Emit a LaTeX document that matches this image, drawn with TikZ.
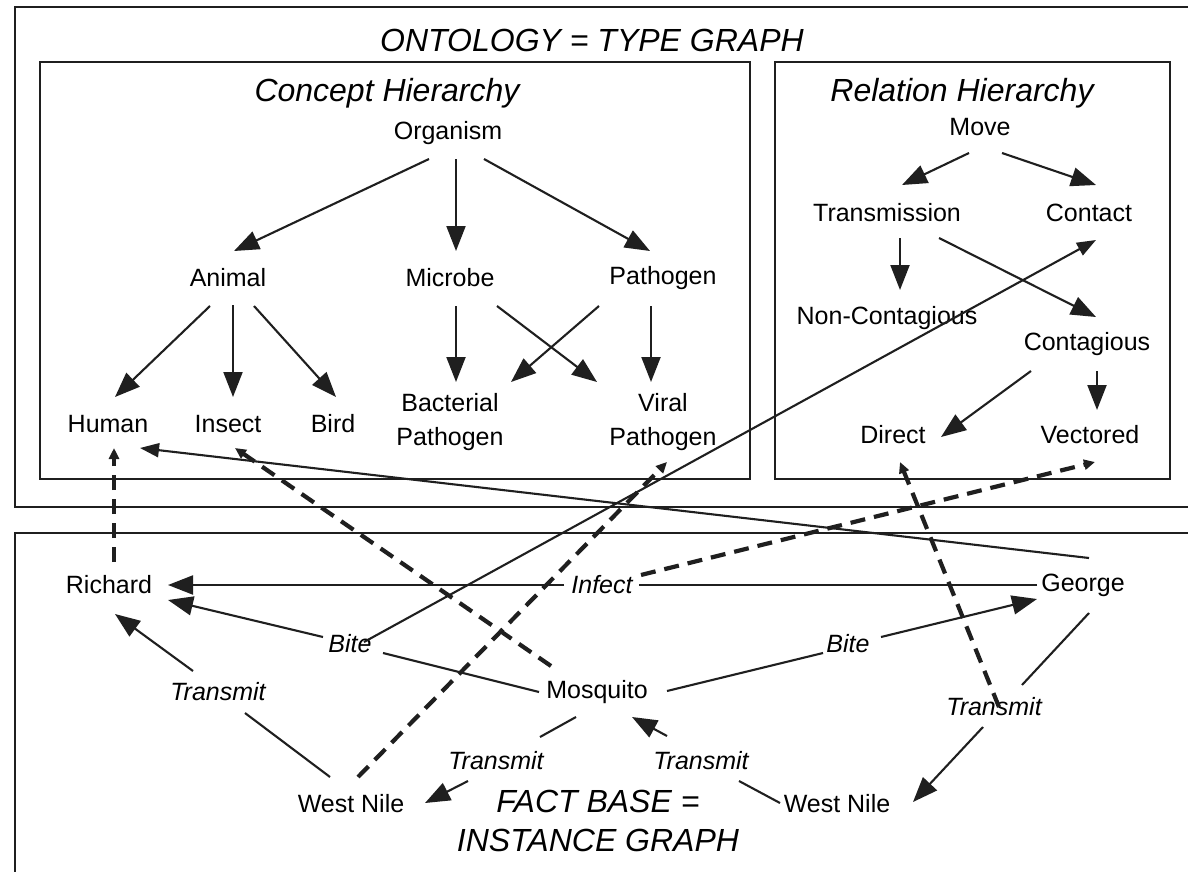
\documentclass[tikz,border=0pt]{standalone}
\usepackage{fontspec}
\setmainfont{Liberation Sans}
\usetikzlibrary{arrows.meta}
\begin{document}
\begin{tikzpicture}[x=1pt,y=-1pt,
  lbl/.style={font=\fontsize{25}{34}\selectfont, inner sep=0pt, align=center},
  rel/.style={font=\fontsize{25}{34}\selectfont\itshape, inner sep=0pt},
  ttl/.style={font=\fontsize{32}{40}\selectfont\itshape, inner sep=0pt, align=center},
  frame/.style={line width=2.6pt, draw=black!88},
  arr/.style={line width=2.1pt, draw=black!88, -{Triangle[length=25pt,width=19pt]}},
  ln/.style={line width=2.1pt, draw=black!88},
  darr/.style={line width=4.2pt, draw=black!88, dash pattern=on 15pt off 9pt, -{Triangle[length=11pt,width=10pt]}}
]
\useasboundingbox (0,0) rectangle (1188,872);
\clip (0,0) rectangle (1188,872);
\fill[white] (0,0) rectangle (1188,872);
% frames
\draw[frame] (1240,7) -- (15,7) -- (15,507) -- (1240,507);
\draw[frame] (1240,533) -- (15,533) -- (15,900);
\draw[frame] (40,62) rectangle (750,479);
\draw[frame] (775,62) rectangle (1170,479);
% titles
\node[ttl] (ont) at (592,40) {ONTOLOGY = TYPE GRAPH};
\node[ttl] (ch) at (387,93) {Concept Hierarchy};
\node[ttl] (rh) at (962,93) {Relation Hierarchy};
\node[ttl, font=\fontsize{32}{39}\selectfont\itshape] (fact) at (598,821) {FACT BASE =\\INSTANCE GRAPH};
% concept nodes
\node[lbl] (org) at (448,133) {Organism};
\node[lbl] (ani) at (228,278) {Animal};
\node[lbl] (mic) at (450,278) {Microbe};
\node[lbl] (pat) at (663,278) {Pathogen};
\node[lbl] (hum) at (108,424) {Human};
\node[lbl] (ins) at (228,424) {Insect};
\node[lbl] (bir) at (333,424) {Bird};
\node[lbl] (bac) at (450,422) {Bacterial\\Pathogen};
\node[lbl] (vir) at (663,422) {Viral\\Pathogen};
% relation nodes
\node[lbl] (move) at (980,127) {Move};
\node[lbl] (trans) at (887,213) {Transmission};
\node[lbl] (cont) at (1089,213) {Contact};
\node[lbl] (nonc) at (887,318) {Non-Contagious};
\node[lbl] (contag) at (1087,344) {Contagious};
\node[lbl] (dir) at (893,435) {Direct};
\node[lbl] (vec) at (1090,435) {Vectored};
% instance nodes
\node[lbl] (rich) at (109,585) {Richard};
\node[rel] (infect) at (602,585) {Infect};
\node[lbl] (george) at (1083,585) {George};
\node[rel] (biteL) at (350,644) {Bite};
\node[rel] (biteR) at (848,644) {Bite};
\node[lbl] (mosq) at (597,692) {Mosquito};
\node[rel] (trL) at (218,692) {Transmit};
\node[rel] (trML) at (496,761) {Transmit};
\node[rel] (trMR) at (701,761) {Transmit};
\node[rel] (trR) at (994,707) {Transmit};
\node[lbl] (wnL) at (351,804) {West Nile};
\node[lbl] (wnR) at (837,804) {West Nile};
% concept hierarchy edges
\draw[arr] ([shift={(-19,26)}]org.center) -- ([shift={(6,-27)}]ani.center);
\draw[arr] ([shift={(8,26)}]org.center) -- ([shift={(6,-27)}]mic.center);
\draw[arr] ([shift={(36,26)}]org.center) -- ([shift={(-13,-27)}]pat.center);
\draw[arr] ([shift={(-18,28)}]ani.center) -- ([shift={(7,-27)}]hum.center);
\draw[arr] ([shift={(5,27)}]ani.center) -- ([shift={(5,-27)}]ins.center);
\draw[arr] ([shift={(26,28)}]ani.center) -- ([shift={(3,-27)}]bir.center);
\draw[arr] ([shift={(6,28)}]mic.center) -- ([shift={(6,-40)}]bac.center);
\draw[arr] ([shift={(47,28)}]mic.center) -- ([shift={(-66,-40)}]vir.center);
\draw[arr] ([shift={(-64,28)}]pat.center) -- ([shift={(61,-40)}]bac.center);
\draw[arr] ([shift={(-12,28)}]pat.center) -- ([shift={(-12,-40)}]vir.center);
% relation hierarchy edges
\draw[arr] ([shift={(-11,26)}]move.center) -- ([shift={(15,-28)}]trans.center);
\draw[arr] ([shift={(22,26)}]move.center) -- ([shift={(7,-28)}]cont.center);
\draw[arr] ([shift={(13,25)}]trans.center) -- ([shift={(13,-28)}]nonc.center);
\draw[arr] ([shift={(52,25)}]trans.center) -- ([shift={(9,-27)}]contag.center);
\draw[arr] ([shift={(-56,27)}]contag.center) -- ([shift={(48,2)}]dir.center);
\draw[arr] ([shift={(10,27)}]contag.center) -- ([shift={(7,-25)}]vec.center);
% instance graph edges
\draw[arr] ([shift={(-38,0)}]infect.center) -- ([shift={(59,0)}]rich.center);
\draw[ln] ([shift={(-46,0)}]george.center) -- ([shift={(37,0)}]infect.center);
\draw[arr] ([shift={(-27,-7)}]biteL.center) -- ([shift={(59,15)}]rich.center);
\draw[ln] ([shift={(-58,0)}]mosq.center) -- ([shift={(33,9)}]biteL.center);
\draw[ln] ([shift={(70,-1)}]mosq.center) -- ([shift={(-25,9)}]biteR.center);
\draw[arr] ([shift={(33,-7)}]biteR.center) -- ([shift={(-46,14)}]george.center);
\draw[ln] ([shift={(-21,-27)}]wnL.center) -- ([shift={(27,21)}]trL.center);
\draw[arr] ([shift={(-25,-21)}]trL.center) -- ([shift={(6,29)}]rich.center);
\draw[ln] ([shift={(-21,25)}]mosq.center) -- ([shift={(44,-24)}]trML.center);
\draw[arr] ([shift={(-28,20)}]trML.center) -- ([shift={(74,-1)}]wnL.center);
\draw[ln] ([shift={(-57,-1)}]wnR.center) -- ([shift={(38,20)}]trMR.center);
\draw[arr] ([shift={(-34,-25)}]trMR.center) -- ([shift={(35,25)}]mosq.center);
\draw[ln] ([shift={(6,28)}]george.center) -- ([shift={(28,-22)}]trR.center);
\draw[arr] ([shift={(-11,20)}]trR.center) -- ([shift={(76,-2)}]wnR.center);
% cross-layer edges
\draw[line width=2.1pt, draw=black!88, -{Triangle[length=19pt,width=14pt]}] ([shift={(14,-2)}]biteL.center) -- ([shift={(7,27)}]cont.center);
\draw[line width=2.1pt, draw=black!88, -{Triangle[length=19pt,width=14pt]}] ([shift={(6,-27)}]george.center) -- ([shift={(32,24)}]hum.center);
\draw[darr] ([shift={(5,-23)}]rich.center) -- ([shift={(6,24)}]hum.center);
\draw[darr] ([shift={(-46,-26)}]mosq.center) -- ([shift={(7,24)}]ins.center);
\draw[darr] ([shift={(7,-27)}]wnL.center) -- ([shift={(4,40)}]vir.center);
\draw[darr] ([shift={(39,-10)}]infect.center) -- ([shift={(5,27)}]vec.center);
\draw[darr] ([shift={(5,0)}]trR.center) -- ([shift={(7,27)}]dir.center);
\end{tikzpicture}
\end{document}
